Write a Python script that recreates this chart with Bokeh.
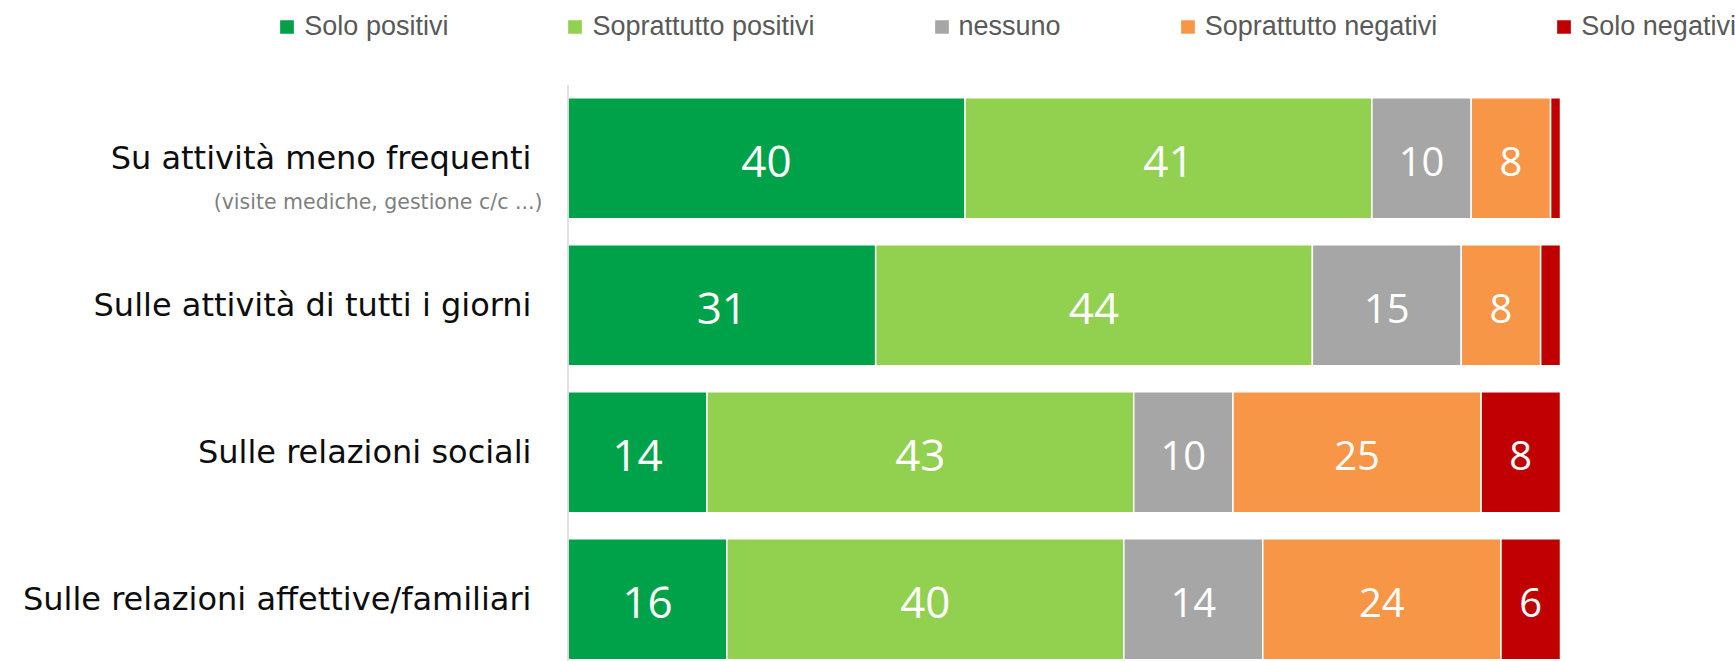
from bokeh.plotting import figure
from bokeh.models import ColumnDataSource, Range1d
from bokeh.embed import file_html
from bokeh.resources import INLINE
from bokeh.core.properties import value

# ---- data ----
categories = [
    "Su attività meno frequenti",
    "Sulle attività di tutti i giorni",
    "Sulle relazioni sociali",
    "Sulle relazioni affettive/familiari",
]
subtitle = "(visite mediche, gestione c/c ...)"
series_names = ["Solo positivi", "Soprattutto positivi", "nessuno",
                "Soprattutto negativi", "Solo negativi"]
solo_positivi = [40, 31, 14, 16]
soprattutto_positivi = [41, 44, 43, 40]
nessuno = [10, 15, 10, 14]
soprattutto_negativi = [8, 8, 25, 24]
solo_negativi = [1, 2, 8, 6]

series_values = [solo_positivi, soprattutto_positivi, nessuno,
                 soprattutto_negativi, solo_negativi]
series_colors = ["#00A249", "#92D050", "#A6A6A6", "#F79646", "#C00000"]
label_sizes = ["44px", "44px", "40px", "40px", "40px"]

n = len(categories)
ypos = [n - 1 - i for i in range(n)]
keys = ["s%d" % i for i in range(len(series_names))]

data = {"y": ypos, "cat": categories}
for k, vals in zip(keys, series_values):
    data[k] = vals
source = ColumnDataSource(data)

NUM_FONT = "Open Sans"
CAT_FONT = "DejaVu Sans"

W, H = 1735, 661
x_px = 9.925
y_px = 147.0
x0_px = 567.5
row1_px = 157.8
x_range = Range1d(-x0_px / x_px, (W - x0_px) / x_px)
y_range = Range1d((n - 1) - (H - row1_px) / y_px, (n - 1) + row1_px / y_px)

p = figure(width=W, height=H, output_backend="svg", toolbar_location=None,
           x_range=x_range, y_range=y_range,
           x_axis_location=None, y_axis_location=None,
           min_border=0, outline_line_color=None,
           background_fill_color="white", border_fill_color="white")
p.grid.visible = False

p.hbar_stack(keys, y="y", height=0.823, fill_color=series_colors,
             line_color="white", line_width=1.5, source=source,
             legend_label=series_names)

# category axis line
p.segment(x0=[0], y0=[y_range.start], x1=[0], y1=[n - 0.5],
          line_color="#D9D9D9", line_width=1.5)

# value labels
cum = [0.0] * n
for vals, size in zip(series_values, label_sizes):
    mids = [c + v / 2.0 for c, v in zip(cum, vals)]
    texts = [str(v) if v >= 5 else "" for v in vals]
    p.text(x=mids, y=ypos, text=texts, text_align="center",
           text_baseline="middle", text_color="white",
           text_font=value(NUM_FONT), text_font_size=size, y_offset=3)
    cum = [c + v for c, v in zip(cum, vals)]

# category labels
p.text(x=0, y="y", text="cat", source=source, x_offset=-36.5,
       text_align="right", text_baseline="middle", text_color="#0D0D0D",
       text_font=value(CAT_FONT), text_font_size="32px")

# subtitle of the first category
p.text(x=[0], y=[ypos[0]], text=[subtitle], x_offset=-25.5, y_offset=44,
       text_align="right", text_baseline="alphabetic", text_color="#7F7F7F",
       text_font=value(CAT_FONT), text_font_size="20.5px")

leg = p.legend[0]
leg.location = (277.35, 619.5)
leg.orientation = "horizontal"
leg.glyph_width = 19
leg.glyph_height = 19
leg.label_standoff = 8
leg.spacing = 117
leg.padding = 0
leg.margin = 0
leg.border_line_color = None
leg.background_fill_alpha = 0
leg.label_text_font = "Liberation Sans"
leg.label_text_font_size = "27px"
leg.label_text_color = "#595959"

open("out.html", "w").write(file_html(p, INLINE))
